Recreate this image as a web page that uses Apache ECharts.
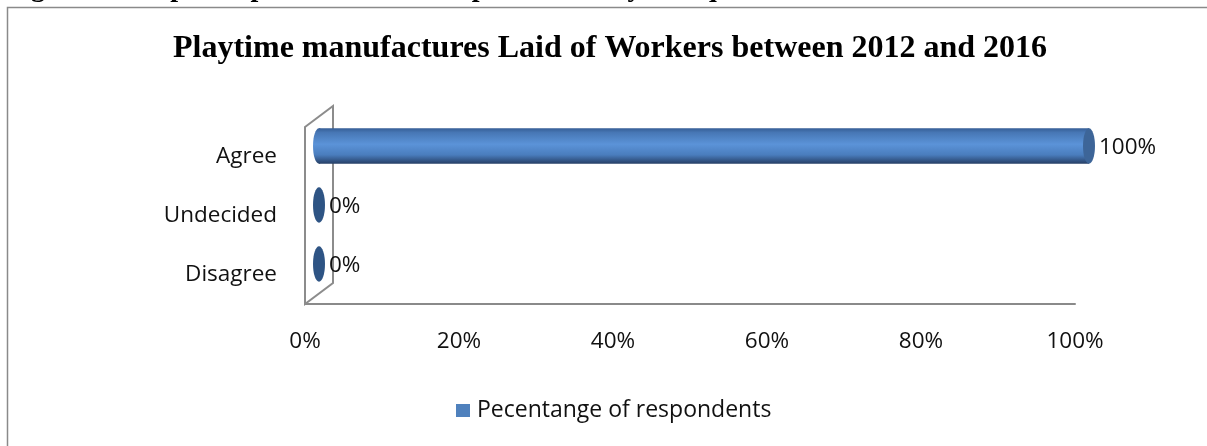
<!DOCTYPE html>
<html>
<head>
<meta charset="utf-8">
<script src="https://cdn.jsdelivr.net/npm/echarts@6/dist/echarts.min.js"></script>
<style>
  html, body { margin: 0; padding: 0; background: #fff; }
  #chart { width: 1207px; height: 446px; }
</style>
</head>
<body>
<div id="chart"></div>
<script>
var categories = ["Agree", "Undecided", "Disagree"];
var percentValues = [100, 0, 0];
var tickValues = [0, 20, 40, 60, 80, 100];
var seriesName = "Pecentange of respondents";
var titleText = "Playtime manufactures Laid of Workers between 2012 and 2016";
var captionText = "Figure 4: Graphical presentation of responses to Playtime question";

var depthX = 28, depthY = -21;   // 3D wall depth in px
var labelFont = "Open Sans";
var labelSize = 22.5;

var chart = echarts.init(document.getElementById("chart"));

function renderWall(params, api) {
    var band = api.size([0, 1])[1];
    var top = api.coord([0, 0]);
    var bot = api.coord([0, categories.length - 1]);
    var x0 = top[0];
    var yTop = top[1] - band / 2;
    var yBot = bot[1] + band / 2;
    return {
        type: "polygon",
        shape: {
            points: [[x0, yTop], [x0 + depthX, yTop + depthY], [x0 + depthX, yBot + depthY], [x0, yBot]]
        },
        style: { fill: "#fff", stroke: "#8c8c8c", lineWidth: 2 }
    };
}

function renderBar(params, api) {
    var v = api.value(0);
    var cat = api.value(1);
    var s = api.coord([0, cat]);
    var e = api.coord([v, cat]);
    var band = api.size([0, 1])[1];
    var h = band * 0.6;
    var cy = s[1] + depthY / 2;
    var sx = s[0] + depthX / 2;
    var ex = e[0] + depthX / 2;
    var rx = 6;
    var grad = new echarts.graphic.LinearGradient(0, 0, 0, 1, [
        { offset: 0, color: "#365e96" },
        { offset: 0.12, color: "#4777b5" },
        { offset: 0.45, color: "#5b93d8" },
        { offset: 0.75, color: "#4a7dbd" },
        { offset: 1, color: "#263f66" }
    ]);
    var children = [];
    if (ex - sx > 1) {
        children.push({
            type: "ellipse",
            shape: { cx: sx, cy: cy, rx: rx, ry: h / 2 },
            style: { fill: grad }
        });
        children.push({
            type: "rect",
            shape: { x: sx, y: cy - h / 2, width: ex - sx, height: h },
            style: { fill: grad }
        });
    }
    children.push({
        type: "ellipse",
        shape: { cx: ex, cy: cy, rx: rx, ry: h / 2 },
        style: { fill: ex - sx > 1 ? "#3d6598" : "#2e5484" }
    });
    children.push({
        type: "text",
        x: ex + rx + 4,
        y: cy + 2,
        style: {
            text: v + "%",
            fill: "#111",
            font: labelSize + "px '" + labelFont + "'",
            verticalAlign: "middle",
            align: "left"
        }
    });
    return { type: "group", children: children };
}

var option = {
    backgroundColor: "#fff",
    animation: false,
    title: {
        text: titleText,
        left: 168,
        top: 28,
        textStyle: {
            fontFamily: "Liberation Serif",
            fontWeight: "bold",
            fontSize: 32,
            color: "#000"
        }
    },
    legend: {
        data: [seriesName],
        bottom: 19,
        left: 451,
        icon: "rect",
        itemWidth: 14,
        itemHeight: 13,
        itemGap: 6,
        textStyle: { fontFamily: labelFont, fontSize: 23, color: "#111", padding: [0, 0, 0, 2] }
    },
    grid: { left: 305, right: 132, top: 127, bottom: 142 },
    xAxis: {
        type: "value",
        min: tickValues[0],
        max: tickValues[tickValues.length - 1],
        interval: tickValues[1] - tickValues[0],
        axisLine: { show: true, lineStyle: { color: "#8a8a8a", width: 2 } },
        axisTick: { show: false },
        splitLine: { show: false },
        axisLabel: {
            formatter: "{value}%",
            margin: 26,
            fontFamily: labelFont,
            fontSize: labelSize,
            color: "#111"
        }
    },
    yAxis: {
        type: "category",
        inverse: true,
        data: categories,
        axisLine: { show: false },
        axisTick: { show: false },
        axisLabel: {
            margin: 28,
            fontFamily: labelFont,
            fontSize: labelSize,
            color: "#111"
        }
    },
    graphic: [
        {
            type: "polyline",
            shape: { points: [[7.5, 446], [7.5, 7.5], [1207, 7.5]] },
            style: { stroke: "#8a8a8a", lineWidth: 1.5, fill: null }
        },
        {
            type: "text",
            x: 6,
            y: 3,
            style: {
                text: captionText,
                font: "bold 28px 'Liberation Serif'",
                fill: "#000",
                verticalAlign: "bottom"
            }
        }
    ],
    series: [
        {
            name: "wall",
            type: "custom",
            renderItem: renderWall,
            data: [[0, 0]],
            encode: { x: 0, y: 1 },
            silent: true,
            z: 1
        },
        {
            name: seriesName,
            type: "custom",
            renderItem: renderBar,
            itemStyle: { color: "#4f81bd" },
            data: categories.map(function (c, i) { return [percentValues[i], i]; }),
            encode: { x: 0, y: 1 },
            z: 2
        }
    ]
};

chart.setOption(option);
</script>
</body>
</html>
